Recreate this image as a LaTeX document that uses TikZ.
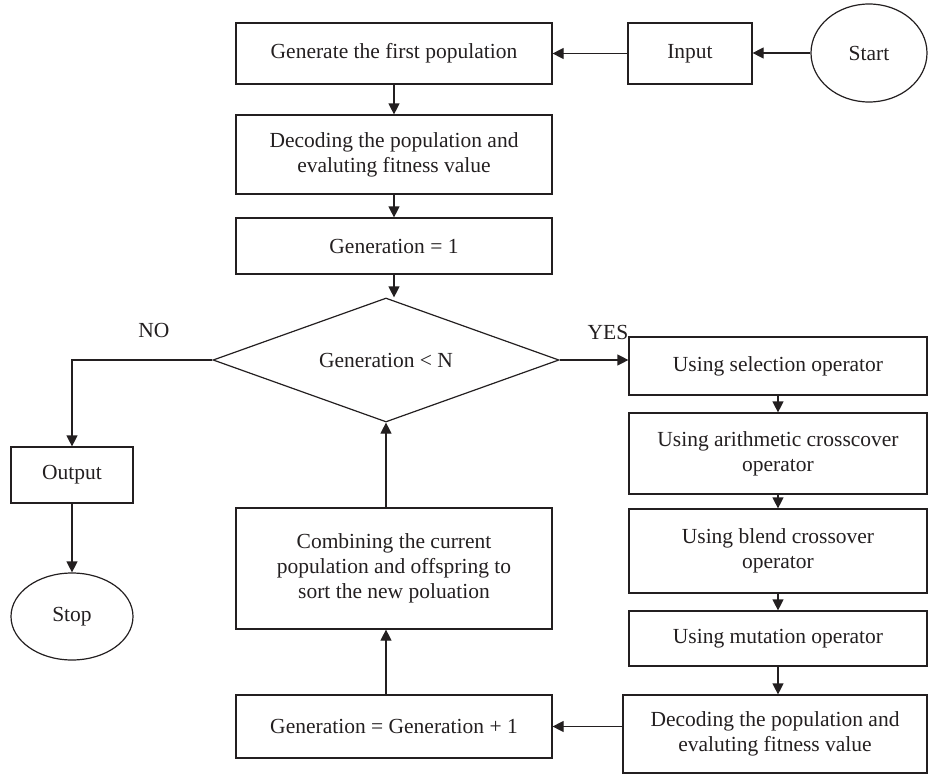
\documentclass[tikz,border=0pt]{standalone}
\usepackage{fontspec}
\setmainfont{Liberation Serif}
\usetikzlibrary{shapes.geometric,arrows.meta}
\definecolor{ink}{RGB}{35,31,32}
\begin{document}
\begin{tikzpicture}[x=1pt,y=-1pt,
  every node/.style={font=\fontsize{21.5}{25}\selectfont,text=ink},
  box/.style={draw=ink,line width=1.2pt,rectangle,align=center,inner sep=0pt},
  oval/.style={draw=ink,line width=1.2pt,ellipse,inner sep=0pt},
  arr/.style={draw=ink,line width=1.2pt,-{Triangle[length=11pt,width=11pt]}}]
\useasboundingbox (0,0) rectangle (929,776);
\node[oval,minimum width=116,minimum height=98] (start) at (869,53) {Start};
\node[box,minimum width=124,minimum height=61] (input) at (690,53.5) {Input};
\node[box,minimum width=316,minimum height=61] (first) at (394,53.5) {Generate the first population};
\node[box,minimum width=316,minimum height=79] (decode) at (394,154.5) {Decoding the population and\\evaluting fitness value};
\node[box,minimum width=316,minimum height=56] (genone) at (394,246) {Generation = 1};
\node[draw=ink,line width=1.2pt,diamond,aspect=2.8,inner sep=0pt,minimum width=346,minimum height=124] (cond) at (386,360) {Generation < N};
\node[box,minimum width=122,minimum height=56] (output) at (72,475) {Output};
\node[oval,minimum width=122,minimum height=87] (stop) at (72,616.5) {Stop};
\node[box,minimum width=316,minimum height=121] (combine) at (394,568.5) {Combining the current\\population and offspring to\\sort the new poluation};
\node[box,minimum width=316,minimum height=63] (nextgen) at (394,726.5) {Generation = Generation + 1};
\node[box,minimum width=298,minimum height=58] (select) at (778,366) {Using selection operator};
\node[box,minimum width=298,minimum height=81] (arith) at (778,453.5) {Using arithmetic crosscover\\operator};
\node[box,minimum width=298,minimum height=84] (blend) at (778,551) {Using blend crossover\\operator};
\node[box,minimum width=298,minimum height=55] (mutate) at (778,638.5) {Using mutation operator};
\node[box,minimum width=304,minimum height=78] (decodetwo) at (775,734) {Decoding the population and\\evaluting fitness value};
\node (no) at (154,330) {NO};
\node (yes) at (608,332) {YES};
\draw[arr] (start.west) -- (start.west -| input.east);
\draw[arr] (input.west) -- (first.east);
\draw[arr] (first) -- (decode);
\draw[arr] (decode) -- (genone);
\draw[arr] (genone.south) -- (genone.south |- cond.north);
\draw[arr] (cond.west) -| (output.north);
\draw[arr] (output) -- (stop);
\draw[arr] (cond.east) -- (cond.east -| select.west);
\draw[arr] (select) -- (arith);
\draw[arr] (arith) -- (blend);
\draw[arr] (blend) -- (mutate);
\draw[arr] (mutate.south) -- (mutate.south |- decodetwo.north);
\draw[arr] (decodetwo.west |- nextgen.east) -- (nextgen.east);
\draw[arr] (cond.south |- nextgen.north) -- (cond.south |- combine.south);
\draw[arr] (cond.south |- combine.north) -- (cond.south);
\end{tikzpicture}
\end{document}
